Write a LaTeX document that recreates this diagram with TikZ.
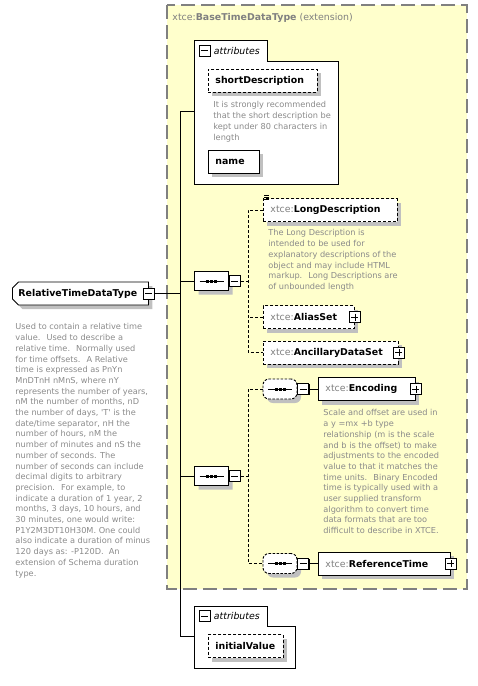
\documentclass[tikz,border=0pt]{standalone}
\usepackage{fontspec}
\setmainfont{DejaVu Sans}
\usetikzlibrary{positioning,shapes.misc,shadows}

\definecolor{extfill}{RGB}{255,255,204}
\definecolor{extline}{RGB}{128,128,128}
\definecolor{docgray}{RGB}{138,138,138}
\definecolor{nsgray}{RGB}{128,128,128}
\definecolor{shadowgray}{RGB}{192,192,192}

\newcommand\xns[1]{{\mdseries\color{nsgray}xtce:}#1}
\newcommand\lblfont{\fontsize{9.4}{11}\selectfont\bfseries}
\newcommand\docfont{\fontsize{8.2}{10.7}\selectfont}

\tikzset{
  elemshadow/.style={drop shadow={shadow xshift=4pt,shadow yshift=-4pt,fill=shadowgray,opacity=1}},
  elem/.style={draw, fill=white, elemshadow, minimum height=23pt, inner xsep=7pt, inner ysep=0pt,
    text width=#1, align=left, anchor=west, font=\lblfont},
  optelem/.style={elem=#1, dash pattern=on 3pt off 2pt},
  rootelem/.style={draw, fill=white, elemshadow, chamfered rectangle,
    chamfered rectangle corners={north west,south west}, chamfered rectangle xsep=3pt,
    chamfered rectangle ysep=3pt, minimum width=136pt, minimum height=23pt, inner xsep=2pt,
    inner ysep=0pt, text width=124pt, align=left, anchor=west, font=\lblfont},
  doc/.style={anchor=north west, inner sep=0pt, align=left, font=\docfont, text=docgray},
  grouplabel/.style={inner sep=0pt, font=\fontsize{9.4}{11}\selectfont\itshape},
  expbox/.style={draw, fill=white, minimum size=11pt, inner sep=0pt, line width=0.9pt,
    drop shadow={shadow xshift=0.8pt,shadow yshift=-0.8pt,fill=black,opacity=1}},
  minusbox/.style={expbox, path picture={
    \draw[solid,line width=0.8pt] ([xshift=2pt]path picture bounding box.west) -- ([xshift=-2pt]path picture bounding box.east);}},
  plusbox/.style={expbox, path picture={
    \draw[solid,line width=0.8pt] ([xshift=2pt]path picture bounding box.west) -- ([xshift=-2pt]path picture bounding box.east);
    \draw[solid,line width=0.8pt] ([yshift=-2pt]path picture bounding box.north) -- ([yshift=2pt]path picture bounding box.south);}},
  seqsym/.style={path picture={
    \draw[black,solid,sharp corners,line width=1pt] ([xshift=5pt]path picture bounding box.west) -- ([xshift=-5pt]path picture bounding box.east);
    \foreach \dx in {-4,0,4}
      \fill[black,sharp corners] ([xshift=\dx pt]path picture bounding box.center) +(-1.5pt,-1.5pt) rectangle +(1.5pt,1.5pt);}},
  compositor/.style={draw, fill=white, elemshadow, chamfered rectangle, chamfered rectangle xsep=5pt,
    chamfered rectangle ysep=5pt, minimum width=34pt, minimum height=19pt, inner sep=0pt, seqsym},
  optcomp/.style={draw, fill=white, elemshadow, dash pattern=on 2.5pt off 1.5pt, rounded corners=6pt,
    minimum width=34pt, minimum height=20pt, inner sep=0pt, seqsym},
  extframe/.style={draw=extline, fill=extfill, line width=1.3pt, dash pattern=on 14pt off 6pt},
  attrgroup/.style={draw, fill=white},
  dashcon/.style={dash pattern=on 3pt off 2pt},
}

\begin{document}
\begin{tikzpicture}[x=1pt,y=-1pt,line width=0.9pt]
  \useasboundingbox (0,0) rectangle (478,686);

  % extension of the base type
  \draw[extframe] (167,5) rectangle (467,589);
  \node[anchor=west, inner sep=0pt, font=\fontsize{9.4}{11}\selectfont, text=nsgray] (exttitle) at (172,18)
    {xtce:\textbf{BaseTimeDataType} (extension)};

  % attributes of the base type
  \draw[attrgroup] (194,40) -- (267,40) -- (267,61) -- (338,61) -- (338,184) -- (194,184) -- cycle;
  \node[minusbox] (att1m) at (204.5,50.5) {};
  \node[grouplabel, right=3pt of att1m] (att1l) {attributes};
  \node[optelem=95pt] (shortdesc) at (208,80.5) {shortDescription};
  \node[doc] (shortdoc) at (213,101.3) {It is strongly recommended\\that the short description be\\kept under 80 characters in\\length};
  \node[elem=37pt] (name) at (208,161.5) {name};

  % the type itself
  \node[rootelem] (root) at (12,293.5) {RelativeTimeDataType};
  \node[minusbox] (rootm) at (root.east) {};
  \node[doc] (rootdoc) at (15,323.3) {Used to contain a relative time\\
    value.~ Used to describe a\\
    relative time.~ Normally used\\
    for time offsets.~ A Relative\\
    time is expressed as PnYn\\
    MnDTnH nMnS, where nY\\
    represents the number of years,\\
    nM the number of months, nD\\
    the number of days, \textquotesingle T\textquotesingle\ is the\\
    date/time separator, nH the\\
    number of hours, nM the\\
    number of minutes and nS the\\
    number of seconds. The\\
    number of seconds can include\\
    decimal digits to arbitrary\\
    precision.~ For example, to\\
    indicate a duration of 1 year, 2\\
    months, 3 days, 10 hours, and\\
    30 minutes, one would write:\\
    P1Y2M3DT10H30M. One could\\
    also indicate a duration of minus\\
    120 days as: -P120D.~ An\\
    extension of Schema duration\\
    type.};

  % first sequence
  \node[compositor] (seq1) at (211.5,281) {};
  \node[minusbox, right=0pt of seq1] (seq1m) {};
  \node[optelem=120pt] (longdesc) at (263,210) {\xns{LongDescription}};
  \foreach \dy in {3,1,-1}
    \draw[line width=0.6pt] ([xshift=1pt,yshift=\dy pt]longdesc.north west) -- ++(5,0);
  \node[doc] (longdoc) at (268,229.3) {The Long Description is\\
    intended to be used for\\
    explanatory descriptions of the\\
    object and may include HTML\\
    markup.~ Long Descriptions are\\
    of unbounded length};
  \node[optelem=77pt] (aliasset) at (263,317) {\xns{AliasSet}};
  \node[plusbox] (aliasp) at (aliasset.east) {};
  \node[optelem=121pt] (ancdata) at (263,352.5) {\xns{AncillaryDataSet}};
  \node[plusbox] (ancp) at (ancdata.east) {};

  % second sequence
  \node[compositor] (seq2) at (211.5,476) {};
  \node[minusbox, right=0pt of seq2] (seq2m) {};
  \node[optcomp] (seq2a) at (280,389) {};
  \node[minusbox, right=0pt of seq2a] (seq2am) {};
  \node[elem=83pt] (encoding) at (318,389) {\xns{Encoding}};
  \node[plusbox] (encp) at (encoding.east) {};
  \node[doc] (encdoc) at (323,409.3) {Scale and offset are used in\\
    a y =mx +b type\\
    relationship (m is the scale\\
    and b is the offset) to make\\
    adjustments to the encoded\\
    value to that it matches the\\
    time units.~ Binary Encoded\\
    time is typically used with a\\
    user supplied transform\\
    algorithm to convert time\\
    data formats that are too\\
    difficult to describe in XTCE.};
  \node[optcomp] (seq2b) at (280,563.5) {};
  \node[minusbox, right=0pt of seq2b] (seq2bm) {};
  \node[elem=118pt] (reftime) at (318,563.5) {\xns{ReferenceTime}};
  \node[plusbox] (refp) at (reftime.east) {};

  % attributes of the type
  \draw[attrgroup] (194,606) -- (267,606) -- (267,626) -- (295,626) -- (295,668) -- (194,668) -- cycle;
  \node[minusbox] (att2m) at (204.5,616) {};
  \node[grouplabel, right=3pt of att2m] (att2l) {attributes};
  \node[optelem=61pt] (initval) at (208,646) {initialValue};

  % connectors
  \coordinate (att1in) at (194,111);
  \coordinate (att2in) at (194,636);
  \coordinate (trunk) at (180,111);
  \coordinate (trunkend) at (180,636);
  \coordinate (bus) at (248,0);
  \draw (att1in) -- (trunk) -- (trunkend) -- (att2in);
  \draw (rootm.east) -- (rootm.east -| trunk);
  \draw (seq1.west) -- (seq1.west -| trunk);
  \draw (seq2.west) -- (seq2.west -| trunk);
  \draw[dashcon] (seq1m.east) -- (seq1m.east -| bus);
  \draw[dashcon] (longdesc.west) -- (longdesc.west -| bus) -- (ancdata.west -| bus) -- (ancdata.west);
  \draw[dashcon] (aliasset.west) -- (aliasset.west -| bus);
  \draw[dashcon] (seq2m.east) -- (seq2m.east -| bus);
  \draw[dashcon] (seq2a.west) -- (seq2a.west -| bus) -- (seq2b.west -| bus) -- (seq2b.west);
  \draw (seq2am.east) -- (encoding.west);
  \draw (seq2bm.east) -- (reftime.west);
\end{tikzpicture}
\end{document}
